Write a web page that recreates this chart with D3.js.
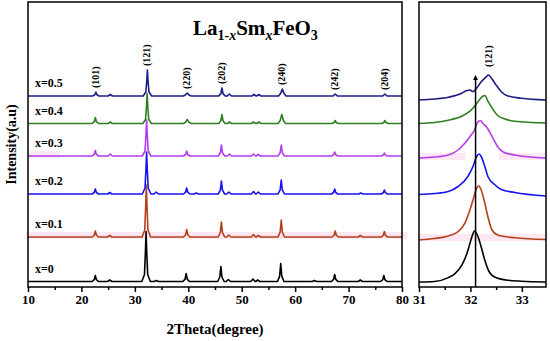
<!DOCTYPE html>
<html>
<head>
<meta charset="utf-8">
<script src="https://cdn.jsdelivr.net/npm/d3@7"></script>
<style>
  html, body { margin: 0; padding: 0; background: #fff; }
  svg { display: block; }
  text { font-family: "Liberation Serif", "Times New Roman", serif; font-weight: bold; fill: #000; }
</style>
</head>
<body>
<svg id="chart" width="550" height="341"></svg>
<script>
// ---------------- DATA ----------------
const seriesLabels = ["x=0", "x=0.1", "x=0.2", "x=0.3", "x=0.4", "x=0.5"];
const seriesColors = ["#000000", "#b5401c", "#1414f0", "#b53cee", "#2f7f1f", "#1c1c86"];

// vertical stacking offsets (intensity units) for the wide scan and the zoomed scan
const mainOffsets = [5.5, 50, 93, 131, 163.5, 191];
const zoomOffsets = [5, 48, 92.5, 129, 163.5, 187];

// wide scan, 2Theta 10-80: [2Theta, intensity above offset]
const main0 = [[10,0],[22.0,0],[22.4,1.8],[22.6,6],[22.8,1.8],[23.2,0],[24.9,0],[25.3,1.5],[25.7,0],[31.3,0],[31.8,7],[31.98,30],[32.1,50],[32.22,30],[32.4,7],[32.9,0],[33.6,0],[34.0,1],[34.4,0],[39.0,0],[39.4,2.4],[39.6,8],[39.8,2.4],[40.2,0],[45.5,0],[45.9,4.5],[46.1,15],[46.3,4.5],[46.7,0],[47.1,0],[47.5,2],[47.9,0],[51.7,0],[52.1,2.5],[52.5,0],[52.6,0],[53.0,1.5],[53.4,0],[56.7,0],[57.1,5.4],[57.3,18],[57.5,5.4],[57.9,0],[63.2,0],[63.6,1],[64.0,0],[66.8,0],[67.2,2.1],[67.4,7],[67.6,2.1],[68.0,0],[71.8,0],[72.2,1.5],[72.6,0],[76.0,0],[76.4,1.8],[76.6,6],[76.8,1.8],[77.2,0],[80,0]];
const main1 = [[10,0],[22.0,0],[22.4,1.8],[22.6,6],[22.8,1.8],[23.2,0],[24.9,0],[25.3,1.5],[25.7,0],[31.35,0],[31.85,7],[32.03,31],[32.15,52],[32.27,31],[32.45,7],[32.95,0],[39.1,0],[39.5,2.2],[39.7,7.5],[39.9,2.2],[40.3,0],[45.6,0],[46.0,4.5],[46.2,15],[46.4,4.5],[46.8,0],[47.2,0],[47.6,2],[48.0,0],[51.8,0],[52.2,2.5],[52.6,0],[52.7,0],[53.1,1.5],[53.5,0],[56.8,0],[57.2,5.1],[57.4,17],[57.6,5.1],[58.0,0],[66.9,0],[67.3,1.8],[67.5,6],[67.7,1.8],[68.1,0],[71.8,0],[72.2,1.5],[72.6,0],[76.1,0],[76.5,1.7],[76.7,5.5],[76.9,1.7],[77.3,0],[80,0]];
const main2 = [[10,0],[22.0,0],[22.4,1.5],[22.6,5],[22.8,1.5],[23.2,0],[24.9,0],[25.3,1.5],[25.7,0],[31.4,0],[31.9,6],[32.08,25],[32.2,42],[32.32,25],[32.5,6],[33.0,0],[33.6,0],[34.0,2],[34.4,0],[39.1,0],[39.5,1.8],[39.7,6],[39.9,1.8],[40.3,0],[41.1,0],[41.5,1],[41.9,0],[45.6,0],[46.0,3.9],[46.2,13],[46.4,3.9],[46.8,0],[47.2,0],[47.6,2],[48.0,0],[51.8,0],[52.2,2.5],[52.6,0],[52.7,0],[53.1,2],[53.5,0],[56.8,0],[57.2,4.2],[57.4,14],[57.6,4.2],[58.0,0],[66.8,0],[67.2,1.5],[67.4,5],[67.6,1.5],[68.0,0],[71.9,0],[72.3,1],[72.7,0],[76.1,0],[76.5,1.2],[76.7,4],[76.9,1.2],[77.3,0],[80,0]];
const main3 = [[10,0],[22.0,0],[22.4,1.7],[22.6,5.5],[22.8,1.7],[23.2,0],[25.0,0],[25.4,2],[25.8,0],[31.4,0],[31.9,5],[32.08,21],[32.2,36],[32.32,21],[32.5,5],[33.0,0],[39.1,0],[39.5,1.5],[39.7,5],[39.9,1.5],[40.3,0],[45.6,0],[46.0,3.3],[46.2,11],[46.4,3.3],[46.8,0],[47.3,0],[47.7,2],[48.1,0],[51.8,0],[52.2,2],[52.6,0],[52.7,0],[53.1,1.5],[53.5,0],[56.8,0],[57.2,3.3],[57.4,11],[57.6,3.3],[58.0,0],[66.8,0],[67.2,1.2],[67.4,4],[67.6,1.2],[68.0,0],[76.1,0],[76.5,0.9],[76.7,3],[76.9,0.9],[77.3,0],[80,0]];
const main4 = [[10,0],[22.0,0],[22.4,1.8],[22.6,6],[22.8,1.8],[23.2,0],[25.0,0],[25.4,1.5],[25.8,0],[31.5,0],[32.0,4],[32.18,17],[32.3,30],[32.42,17],[32.6,4],[33.1,0],[39.1,0],[39.5,1.4],[39.8,4],[40.1,1.4],[40.5,0],[45.7,0],[46.1,2.7],[46.3,9],[46.5,2.7],[46.9,0],[47.3,0],[47.7,1.5],[48.1,0],[51.8,0],[52.2,1.5],[52.6,0],[52.8,0],[53.2,1.5],[53.6,0],[56.8,0],[57.2,3],[57.5,9],[57.8,3],[58.2,0],[66.9,0],[67.3,1],[67.5,3],[67.7,1],[68.1,0],[76.2,0],[76.6,1],[76.8,3],[77.0,1],[77.4,0],[80,0]];
const main5 = [[10,0],[22.1,0],[22.5,1.2],[22.7,4],[22.9,1.2],[23.3,0],[25.0,0],[25.4,1.5],[25.8,0],[31.55,0],[32.05,4],[32.23,15],[32.35,26],[32.47,15],[32.65,4],[33.15,0],[39.1,0],[39.5,1.2],[39.8,3],[40.1,1.2],[40.5,0],[45.7,0],[46.1,2.4],[46.3,8],[46.5,2.4],[46.9,0],[47.3,0],[47.7,2],[48.1,0],[51.9,0],[52.3,1.5],[52.7,0],[52.8,0],[53.2,1.5],[53.6,0],[56.9,0],[57.3,2.8],[57.6,7],[57.9,2.8],[58.3,0],[67.1,0],[67.5,2],[67.9,0],[76.4,0],[76.8,2],[77.2,0],[80,0]];
const mainSeries = [main0, main1, main2, main3, main4, main5];

// zoomed scan of (121), 2Theta 31-33.47
const zoom0 = [[31,0],[31.3,0.5],[31.57,4.4],[31.7,8.4],[31.83,16.7],[31.92,26.7],[31.99,38.4],[32.05,48.4],[32.08,51],[32.15,45],[32.21,35],[32.28,21.7],[32.35,11.7],[32.47,5],[32.73,1.7],[33.0,0.8],[33.47,0]];
const zoom1 = [[31,-1],[31.3,0.5],[31.57,3],[31.76,7.3],[31.89,15.7],[31.99,29],[32.05,39],[32.12,50.7],[32.16,53],[32.21,49],[32.28,35.7],[32.34,22.3],[32.42,9],[32.53,4],[32.86,1.3],[33.47,-0.5]];
const zoom2 = [[31,0],[31.3,1],[31.57,3],[31.76,8],[31.95,18],[32.05,28],[32.12,38],[32.17,40.5],[32.21,38],[32.28,28],[32.34,18],[32.47,10],[32.6,5],[32.86,2],[33.47,-1.5]];
const zoom3 = [[31,0],[31.3,1],[31.57,3],[31.76,8],[31.89,14.7],[31.99,21.3],[32.08,28],[32.15,36.3],[32.2,37.3],[32.24,34.7],[32.31,31.3],[32.37,26.3],[32.44,19.7],[32.53,11.3],[32.63,6.3],[32.86,3],[33.47,0]];
const zoom4 = [[31,0],[31.3,1],[31.57,3.3],[31.83,7.3],[31.99,12.3],[32.08,17.3],[32.18,24],[32.24,27.3],[32.28,28],[32.34,22.3],[32.44,14],[32.53,8],[32.66,4.7],[32.86,2.3],[33.47,0.5]];
const zoom5 = [[31,0],[31.3,1],[31.57,2.7],[31.83,6.7],[31.92,9.3],[31.99,10],[32.05,8.3],[32.12,11.7],[32.21,18.3],[32.31,23.3],[32.35,25],[32.41,21.7],[32.5,15],[32.6,8.3],[32.73,4],[32.99,1.7],[33.47,0]];
const zoomSeries = [zoom0, zoom1, zoom2, zoom3, zoom4, zoom5];

// reflection labels (hkl) and their 2Theta
const hklLabels = ["(101)", "(121)", "(220)", "(202)", "(240)", "(242)", "(204)"];
const hklTheta  = [22.6, 32.2, 39.7, 46.2, 57.4, 67.4, 76.7];
const zoomHkl = "(121)";
const zoomHklTheta = 32.35;
const arrowTheta = 32.1;
const arrowTop = 215;

const mainTicks = [10, 20, 30, 40, 50, 60, 70, 80];
const mainMinor = [15, 25, 35, 45, 55, 65, 75];
const zoomTicks = [31, 32, 33];
const zoomMinor = [31.5, 32.5];

// pale highlight bands seen behind some traces: [series index, 2Theta from, 2Theta to, panel]
const bands = [[1, 9.6, 81, "main"], [3, 10, 16, "main"], [1, 31, 33.47, "zoom"], [3, 31, 31.9, "zoom"], [3, 32.55, 33.47, "zoom"]];

// ---------------- LAYOUT ----------------
const svg = d3.select("#chart");
const plotTop = 2, plotBottom = 287;
const mainL = 28, mainR = 402;
const zoomL = 419, zoomR = 546;

const xMain = d3.scaleLinear().domain([10, 80]).range([mainL, mainR]);
const xZoom = d3.scaleLinear().domain([31, 33.47]).range([zoomL, zoomR]);
const y = d3.scaleLinear().domain([0, 285]).range([plotBottom, plotTop]);

const defs = svg.append("defs");
defs.append("clipPath").attr("id", "clipMain").append("rect")
  .attr("x", mainL).attr("y", plotTop).attr("width", mainR - mainL).attr("height", plotBottom - plotTop);
defs.append("clipPath").attr("id", "clipZoom").append("rect")
  .attr("x", zoomL).attr("y", plotTop).attr("width", zoomR - zoomL).attr("height", plotBottom - plotTop);
defs.append("marker").attr("id", "arrowHead").attr("viewBox", "0 0 10 10")
  .attr("refX", 5).attr("refY", 10).attr("markerWidth", 5).attr("markerHeight", 8)
  .attr("orient", "0").attr("markerUnits", "userSpaceOnUse")
  .append("path").attr("d", "M0,10 L5,0 L10,10 Z").attr("fill", "#000");

// highlight bands
bands.forEach(([si, a, b, panel]) => {
  const xs = panel === "main" ? xMain : xZoom;
  const off = panel === "main" ? mainOffsets[si] : zoomOffsets[si];
  svg.append("rect")
    .attr("x", xs(a)).attr("width", xs(b) - xs(a))
    .attr("y", y(off + 5)).attr("height", y(off - 2) - y(off + 5))
    .attr("fill", "#fbe1ef").attr("opacity", 0.8);
});

const lineMain = d3.line().x(d => xMain(d[0])).y(d => y(d[1]));
const lineZoom = d3.line().x(d => xZoom(d[0])).y(d => y(d[1])).curve(d3.curveMonotoneX);

const gMain = svg.append("g").attr("clip-path", "url(#clipMain)");
mainSeries.forEach((s, i) => {
  gMain.append("path")
    .attr("d", lineMain(s.map(p => [p[0], p[1] + mainOffsets[i]])))
    .attr("fill", "none").attr("stroke", seriesColors[i]).attr("stroke-width", 1.6)
    .attr("stroke-linejoin", "round");
});

const gZoom = svg.append("g").attr("clip-path", "url(#clipZoom)");
zoomSeries.forEach((s, i) => {
  gZoom.append("path")
    .attr("d", lineZoom(s.map(p => [p[0], p[1] + zoomOffsets[i]])))
    .attr("fill", "none").attr("stroke", seriesColors[i]).attr("stroke-width", 1.6)
    .attr("stroke-linejoin", "round");
});

// arrow
svg.append("line")
  .attr("x1", xZoom(arrowTheta)).attr("x2", xZoom(arrowTheta))
  .attr("y1", y(0)).attr("y2", y(arrowTop - 8))
  .attr("stroke", "#000").attr("stroke-width", 1.5)
  .attr("marker-end", "url(#arrowHead)");

// frames
[[mainL, mainR], [zoomL, zoomR]].forEach(([l, r]) => {
  svg.append("rect").attr("x", l).attr("y", plotTop).attr("width", r - l).attr("height", plotBottom - plotTop)
    .attr("fill", "none").attr("stroke", "#000").attr("stroke-width", 1.5);
});

// axes
function drawAxis(scale, ticks, minor) {
  const g = svg.append("g").attr("transform", `translate(0,${plotBottom})`);
  g.call(d3.axisBottom(scale).tickValues(ticks).tickSize(5).tickPadding(3).tickFormat(d3.format("d")));
  g.select(".domain").remove();
  g.selectAll(".tick line").attr("stroke-width", 1.5);
  g.selectAll(".tick text").style("font-family", '"Liberation Serif", serif')
    .style("font-weight", "bold").style("font-size", "13px").attr("fill", "#000");
  const gm = svg.append("g").attr("transform", `translate(0,${plotBottom})`);
  gm.call(d3.axisBottom(scale).tickValues(minor).tickSize(3).tickFormat(""));
  gm.select(".domain").remove();
  gm.selectAll(".tick line").attr("stroke-width", 1.5);
}
drawAxis(xMain, mainTicks, mainMinor);
drawAxis(xZoom, zoomTicks, zoomMinor);

// series labels
seriesLabels.forEach((t, i) => {
  svg.append("text").attr("x", xMain(11.3)).attr("y", y(mainOffsets[i] + 9))
    .style("font-size", "12px").text(t);
});

// hkl labels (placed just above the top trace)
function peakTop(series, th) {
  return d3.max(series.filter(p => Math.abs(p[0] - th) < 0.5), p => p[1]);
}
hklLabels.forEach((t, i) => {
  const th = hklTheta[i];
  const yy = y(mainOffsets[5] + peakTop(main5, th) + 4);
  svg.append("text")
    .attr("transform", `translate(${xMain(th)},${yy}) rotate(-90)`)
    .attr("dy", "0.35em").style("font-size", "10px").text(t);
});
{
  const yy = y(zoomOffsets[5] + peakTop(zoom5, zoomHklTheta) + 8);
  svg.append("text")
    .attr("transform", `translate(${xZoom(zoomHklTheta)},${yy}) rotate(-90)`)
    .attr("dy", "0.35em").style("font-size", "10px").text(zoomHkl);
}

// title
const title = svg.append("text").attr("x", 193).attr("y", 35).style("font-size", "21px");
title.append("tspan").text("La");
title.append("tspan").attr("dy", 5).style("font-size", "14px").text("1-");
title.append("tspan").style("font-size", "14px").style("font-style", "italic").text("x");
title.append("tspan").attr("dy", -5).text("Sm");
title.append("tspan").attr("dy", 5).style("font-size", "14px").style("font-style", "italic").text("x");
title.append("tspan").attr("dy", -5).text("FeO");
title.append("tspan").attr("dy", 5).style("font-size", "14px").text("3");

// axis titles
svg.append("text").attr("x", (mainL + mainR) / 2).attr("y", 334)
  .attr("text-anchor", "middle").style("font-size", "15px").text("2Theta(degree)");
svg.append("text")
  .attr("transform", `translate(11,${(plotTop + plotBottom) / 2}) rotate(-90)`)
  .attr("text-anchor", "middle").attr("dy", "0.35em").style("font-size", "14px").text("Intensity(a.u)");
</script>
</body>
</html>
